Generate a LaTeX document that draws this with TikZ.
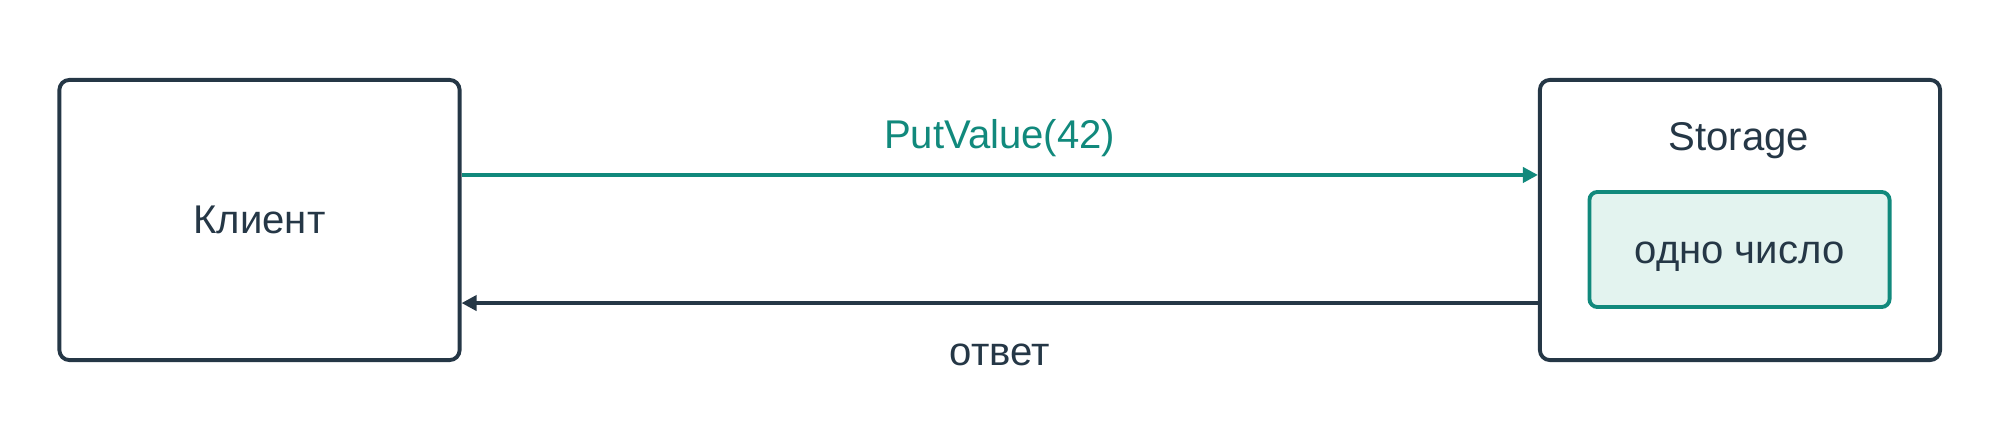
\documentclass[tikz,border=0pt]{standalone}
\usepackage{fontspec}
\setmainfont{Liberation Sans}
\usepackage{xcolor}
\usetikzlibrary{arrows.meta}

\definecolor{ink}{HTML}{253746}
\definecolor{teal}{HTML}{11897C}
\definecolor{mint}{HTML}{E3F3EF}

\begin{document}
\begin{tikzpicture}[x=0.01cm, y=0.01cm,
    every node/.style={font=\fontsize{11.4}{13.7}\selectfont, text=ink},
    box/.style={draw=ink, line width=1.1pt, rounded corners=0.1cm, minimum width=4cm, minimum height=2.8cm},
    cell/.style={draw=teal, fill=mint, line width=1.1pt, rounded corners=0.08cm, minimum width=3cm, minimum height=1.15cm,
        text height=1.0em, text depth=0.2em},
    msg/.style={line width=1.1pt, -{Triangle[length=0.15cm, width=0.15cm]}}]
    \useasboundingbox (0,0) rectangle (2000,440);

    \node[box] (client) at (259.5,220) {Клиент};
    \node[box] (storage) at (1740,220) {};
    \node[anchor=base] (title) at (1739,289) {Storage};
    \node[cell] (value) at (1739.5,190.5) {одно число};

    \draw[msg, draw=teal, fill=teal] ([yshift=0.45cm]client.east) -- ([yshift=0.45cm]storage.west)
        node[midway, anchor=base, yshift=0.26cm, text=teal] (put) {PutValue(42)};
    \draw[msg, draw=ink, fill=ink] ([yshift=-0.83cm]storage.west) -- ([yshift=-0.83cm]client.east)
        node[midway, anchor=base, yshift=-0.62cm] (reply) {ответ};
\end{tikzpicture}
\end{document}
